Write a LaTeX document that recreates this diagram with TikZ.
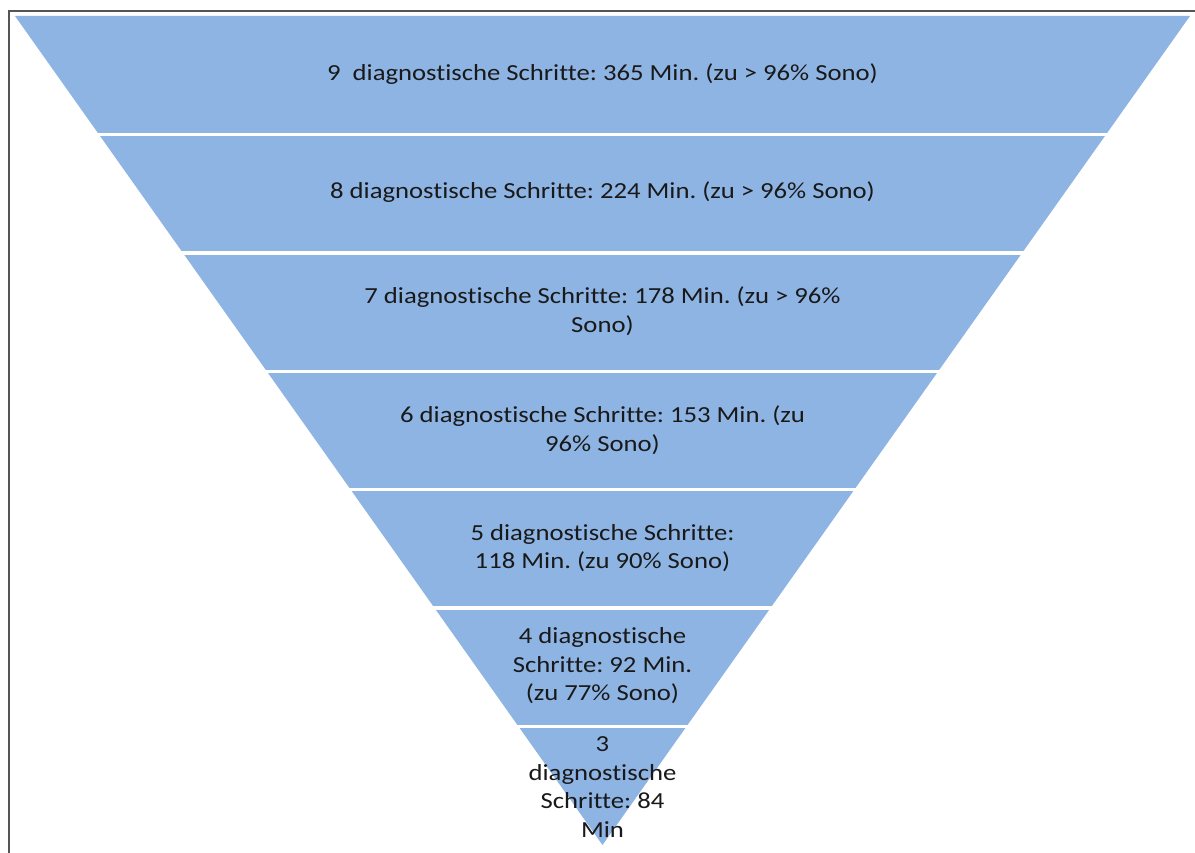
\documentclass[tikz,border=0pt]{standalone}
\usepackage{fontspec}
\setmainfont{Carlito}[Ligatures=NoCommon,FakeStretch=1.16]
\definecolor{bandblue}{RGB}{142,180,227}
\definecolor{framegray}{RGB}{85,85,85}
\definecolor{textdark}{RGB}{25,25,25}
\frenchspacing
\begin{document}
\begin{tikzpicture}[x=1pt,y=-1pt,
  bandtext/.style={align=center,font=\fontsize{23}{28.5}\selectfont,text=textdark,inner sep=0pt},
  gapline/.style={draw=white,line width=3.5pt},
  framestyle/.style={draw=framegray,line width=2pt}]
\useasboundingbox (0,0) rectangle (1195,853);
\fill[white] (0,0) rectangle (1195,853);
\draw[framestyle] (9,853) -- (9,11) -- (1195,11);
\coordinate (L) at (15,16);
\coordinate (R) at (1190,16);
\coordinate (A) at (602.5,845);
\fill[bandblue] (L) -- (R) -- (A) -- cycle;
\foreach \i in {1,...,6} {
  \pgfmathsetmacro\yy{16+118.43*\i}
  \pgfmathsetmacro\hw{0.70869*(845-\yy)}
  \draw[gapline] ({602.5-\hw-3},\yy) -- ({602.5+\hw+3},\yy);
}
\node[bandtext] (t9) at (602.5,74) {9\ \ diagnostische Schritte: 365 Min. (zu > 96\% Sono)};
\node[bandtext] (t8) at (602.5,192) {8 diagnostische Schritte: 224 Min. (zu > 96\% Sono)};
\node[bandtext] (t7) at (602.5,311) {7 diagnostische Schritte: 178 Min. (zu > 96\%\\Sono)};
\node[bandtext] (t6) at (602.5,430) {6 diagnostische Schritte: 153 Min. (zu\\96\% Sono)};
\node[bandtext] (t5) at (602.5,548) {5 diagnostische Schritte:\\118 Min. (zu 90\% Sono)};
\node[bandtext] (t4) at (602.5,666) {4 diagnostische\\Schritte: 92 Min.\\(zu 77\% Sono)};
\node[bandtext] (t3) at (602.5,787) {3\\diagnostische\\Schritte: 84\\Min};
\end{tikzpicture}
\end{document}
